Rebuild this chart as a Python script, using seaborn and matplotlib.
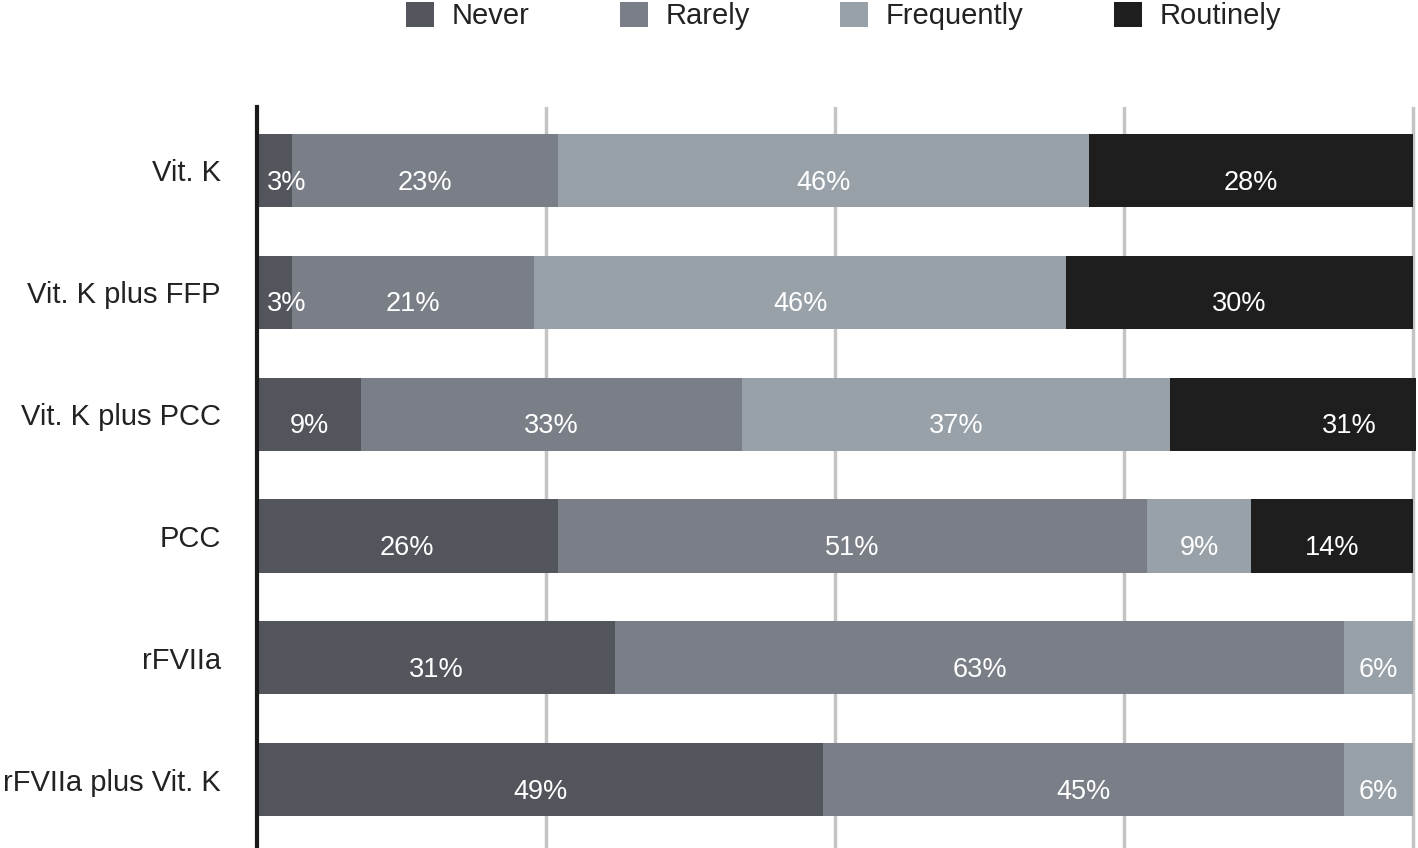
import numpy as np
import pandas as pd
import matplotlib
matplotlib.use("Agg")
import matplotlib.pyplot as plt
from matplotlib.patches import Patch
import seaborn as sns

# data
categories = ["Vit. K", "Vit. K plus FFP", "Vit. K plus PCC", "PCC", "rFVIIa", "rFVIIa plus Vit. K"]
series = ["Never", "Rarely", "Frequently", "Routinely"]
never = [3, 3, 9, 26, 31, 49]
rarely = [23, 21, 33, 51, 63, 45]
frequently = [46, 46, 37, 9, 6, 6]
routinely = [28, 30, 31, 14, 0, 0]

colors = ["#52565c", "#7a7f87", "#98a0a8", "#1e1e1e"]

sns.set_theme(style="white")
plt.rcParams["font.family"] = ["Liberation Sans", "DejaVu Sans"]

values = np.array([never, rarely, frequently, routinely], dtype=float)
cum = np.cumsum(values, axis=0)

fig = plt.figure(figsize=(14.18, 8.48), dpi=100)
ax = fig.add_axes([0.1812, 0.0, 0.9989 - 0.1812, 0.8738])

# draw cumulative totals from last to first so they stack visually
for i in range(len(series) - 1, -1, -1):
    df = pd.DataFrame({"cat": categories, "val": cum[i]})
    sns.barplot(data=df, x="val", y="cat", orient="h", color=colors[i],
                width=0.6, saturation=1, ax=ax, linewidth=0)

# percentage labels
for j in range(len(categories)):
    start = 0
    for i in range(len(series)):
        v = values[i, j]
        if v > 0:
            if v < 5:
                ax.text(start + 0.9, j + 0.1, f"{int(v)}%", color="white",
                        fontsize=19.5, ha="left", va="center")
            else:
                ax.text(start + v / 2, j + 0.1, f"{int(v)}%", color="white",
                        fontsize=19.5, ha="center", va="center")
        start += v

ax.set_xlim(0, 100.3)
ax.set_ylim(5.56, -0.52)
ax.set_xticks([25, 50, 75, 100])
ax.set_xticklabels([])
ax.xaxis.grid(True, color="#c4c4c4", linewidth=2.5)
ax.set_axisbelow(True)
ax.set_xlabel("")
ax.set_ylabel("")
ax.tick_params(axis="y", length=0, labelsize=21, labelcolor="#222222", pad=26)
ax.tick_params(axis="x", length=0)
for s in ["top", "right", "bottom"]:
    ax.spines[s].set_visible(False)
ax.spines["left"].set_color("#1a1a1a")
ax.spines["left"].set_linewidth(3)

handles = [Patch(facecolor=c, edgecolor="none") for c in colors]
fig.legend(handles, series, loc="center", bbox_to_anchor=(0.595, 0.981),
           ncol=4, frameon=False, fontsize=21, handlelength=0.96, handleheight=0.96,
           columnspacing=3.1, handletextpad=0.6, labelcolor="#222222")

fig.savefig("out.png", dpi=100)
